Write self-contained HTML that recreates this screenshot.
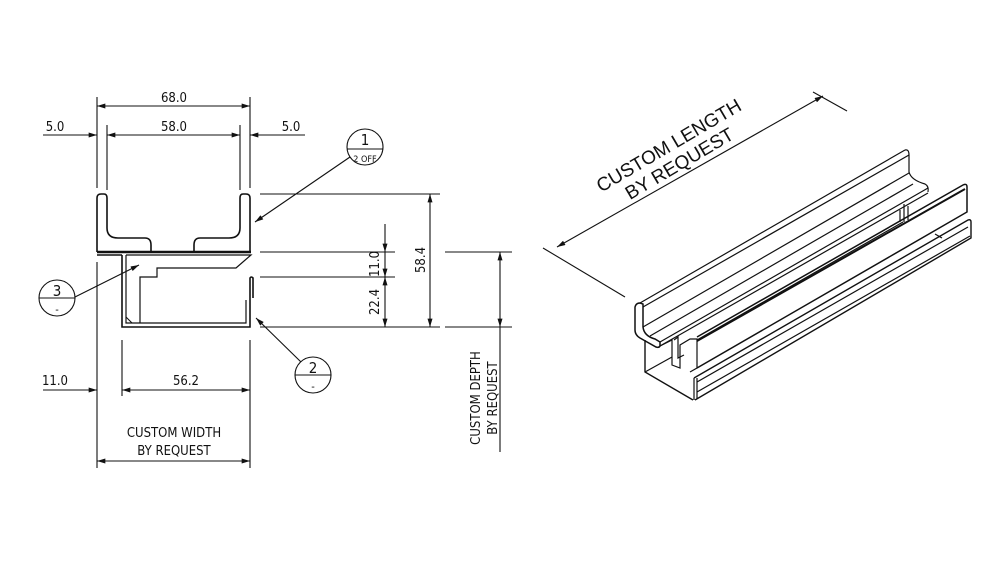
<!DOCTYPE html>
<html><head><meta charset="utf-8"><style>
html,body{margin:0;padding:0;background:#fff;}
svg{display:block;}
text{font-family:"DejaVu Sans Condensed","Liberation Sans",sans-serif;font-size:13px;fill:#111;}
</style></head><body>
<svg width="1000" height="563" viewBox="0 0 1000 563" xmlns="http://www.w3.org/2000/svg">
<defs>
<marker id="a" viewBox="0 0 10 6" refX="10" refY="3" markerWidth="12" markerHeight="5" orient="auto-start-reverse" markerUnits="userSpaceOnUse"><path d="M0,0 L10,3 L0,6 z" fill="#111"/></marker>
</defs>
<g stroke="#111" stroke-width="1.1" fill="none">
<line x1="97" y1="97" x2="97" y2="188"/><line x1="250" y1="97" x2="250" y2="188"/>
<line x1="107" y1="125" x2="107" y2="190"/><line x1="240" y1="125" x2="240" y2="190"/>
<line x1="97" y1="106" x2="250" y2="106" marker-start="url(#a)" marker-end="url(#a)"/>
<line x1="107" y1="135" x2="240" y2="135" marker-start="url(#a)" marker-end="url(#a)"/>
<line x1="43" y1="135" x2="97" y2="135" marker-end="url(#a)"/>
<line x1="305" y1="135" x2="250" y2="135" marker-end="url(#a)"/>
<path stroke-width="1.6" d="M97,252 V198 Q97,194 101,194 H104 Q107,194 107,198 V228 Q107,238 118,238 H145 Q151,238 151,245 V252"/>
<path stroke-width="1.6" d="M250,252 V198 Q250,194 246,194 H243 Q240,194 240,198 V228 Q240,238 229,238 H200 Q194,238 194,245 V252"/>
<line x1="97" y1="252" x2="251" y2="252" stroke-width="2.4"/>
<line x1="97" y1="255" x2="122" y2="255" stroke-width="1.4"/>
<path stroke-width="1.6" d="M122,255 V327 H250 V278 Q251,276 253,278 V298"/>
<path stroke-width="1.2" d="M126,255 V323 H246 V300"/>
<path stroke-width="1.2" d="M126,255 H251 L236,268 H157 V277 H140 V323"/>
<path d="M126,317 L132,323"/>
<line x1="260" y1="194" x2="440" y2="194"/>
<line x1="260" y1="252" x2="395" y2="252"/>
<line x1="260" y1="277" x2="395" y2="277"/>
<line x1="260" y1="327" x2="440" y2="327"/>
<line x1="445" y1="252" x2="512" y2="252"/>
<line x1="445" y1="327" x2="512" y2="327"/>
<line x1="385" y1="224" x2="385" y2="252" marker-end="url(#a)"/>
<line x1="385" y1="252" x2="385" y2="277" marker-end="url(#a)"/>
<line x1="385" y1="277" x2="385" y2="327" marker-start="url(#a)" marker-end="url(#a)"/>
<line x1="430" y1="194" x2="430" y2="327" marker-start="url(#a)" marker-end="url(#a)"/>
<line x1="500" y1="252" x2="500" y2="327" marker-start="url(#a)" marker-end="url(#a)"/>
<line x1="500" y1="327" x2="500" y2="452"/>
<line x1="97" y1="262" x2="97" y2="468"/>
<line x1="250" y1="340" x2="250" y2="468"/>
<line x1="122" y1="340" x2="122" y2="396"/>
<line x1="122" y1="390" x2="250" y2="390" marker-start="url(#a)" marker-end="url(#a)"/>
<line x1="43" y1="390" x2="97" y2="390" marker-end="url(#a)"/>
<line x1="97" y1="461" x2="250" y2="461" marker-start="url(#a)" marker-end="url(#a)"/>
<circle cx="365" cy="147" r="18"/><line x1="347" y1="149" x2="383" y2="149"/>
<line x1="350" y1="157" x2="255" y2="222" marker-end="url(#a)"/>
<circle cx="57" cy="298" r="18"/><line x1="39" y1="298" x2="75" y2="298"/>
<line x1="75" y1="297" x2="139" y2="265" marker-end="url(#a)"/>
<circle cx="313" cy="375" r="18"/><line x1="295" y1="375" x2="331" y2="375"/>
<line x1="301" y1="362" x2="256" y2="318" marker-end="url(#a)"/>
<line x1="543" y1="248" x2="625" y2="297"/>
<line x1="813" y1="92" x2="847" y2="111"/>
<line x1="557" y1="247" x2="823" y2="96" marker-start="url(#a)" marker-end="url(#a)"/>
<g stroke-width="1.2">
<path stroke-width="1.5" d="M635,307 Q636,303 640,303 L643,304 L643,327 Q644,336 655,339 L660,342 V346 Q659,348 656,347 L640,338 Q635,335 635,330 Z"/>
<line x1="640" y1="303" x2="905" y2="150"/>
<line x1="643" y1="307" x2="909" y2="155"/>
<line x1="643" y1="327" x2="909" y2="173"/>
<line x1="650" y1="336" x2="913" y2="184"/>
<line x1="660" y1="342" x2="928" y2="188"/>
<line x1="660" y1="346" x2="928" y2="193"/>
<path d="M905,150 Q909,149 909,155 V172 Q911,180 925,184 Q929,186 928,192"/>
<path d="M660,346 L672,340 V365 L680,368 V345 L690,339 H697 V368 L690,372"/>
<path d="M674,340 L678,337 V358 L684,355"/>
<line x1="697" y1="340" x2="903" y2="222"/>
<path d="M900,210 V222 M904,204 V222 M908,206 V220"/>
<path stroke-width="1.5" d="M697,337 L963,185 Q967,183 967,187 V212 L697,368"/>
<line x1="697" y1="341" x2="965" y2="189" stroke-width="2"/>
<path stroke-width="1.4" d="M694,378 L968,220 Q971,219 971,222 V238 L695,400"/>
<line x1="694" y1="378" x2="694" y2="400"/>
<line x1="697" y1="382" x2="968" y2="227"/>
<line x1="697" y1="392" x2="970" y2="236"/>
<line x1="697" y1="378" x2="697" y2="399"/>
<path d="M935,234 L942,238"/>
<path stroke-width="1.4" d="M645,340 V372 L693,400"/>
<line x1="645" y1="372" x2="672" y2="357"/>
</g>
</g>
<g>
<text x="174" y="102" text-anchor="middle">68.0</text>
<text x="174" y="131" text-anchor="middle">58.0</text>
<text x="55" y="131" text-anchor="middle">5.0</text>
<text x="291" y="131" text-anchor="middle">5.0</text>
<text x="186" y="385" text-anchor="middle">56.2</text>
<text x="55" y="385" text-anchor="middle">11.0</text>
<text x="174" y="437" text-anchor="middle">CUSTOM WIDTH</text>
<text x="174" y="455" text-anchor="middle">BY REQUEST</text>
<text x="365" y="145" text-anchor="middle" style="font-size:15px">1</text>
<text x="365" y="162" text-anchor="middle" style="font-size:9px">2 OFF</text>
<text x="57" y="296" text-anchor="middle" style="font-size:15px">3</text>
<text x="57" y="313" text-anchor="middle" style="font-size:11px">-</text>
<text x="313" y="373" text-anchor="middle" style="font-size:15px">2</text>
<text x="313" y="390" text-anchor="middle" style="font-size:11px">-</text>
<text transform="translate(379,264) rotate(-90)" text-anchor="middle">11.0</text>
<text transform="translate(379,302) rotate(-90)" text-anchor="middle">22.4</text>
<text transform="translate(425,260) rotate(-90)" text-anchor="middle">58.4</text>
<text transform="translate(480,398) rotate(-90)" text-anchor="middle">CUSTOM DEPTH</text>
<text transform="translate(497,398) rotate(-90)" text-anchor="middle">BY REQUEST</text>
<g transform="translate(672,151) rotate(-30.5)">
<text x="0" y="0" text-anchor="middle" style="font-size:19px;font-family:'Liberation Sans',sans-serif">CUSTOM LENGTH</text>
<text x="0" y="21" text-anchor="middle" style="font-size:19px;font-family:'Liberation Sans',sans-serif">BY REQUEST</text>
</g>
</g>
</svg>
</body></html>
